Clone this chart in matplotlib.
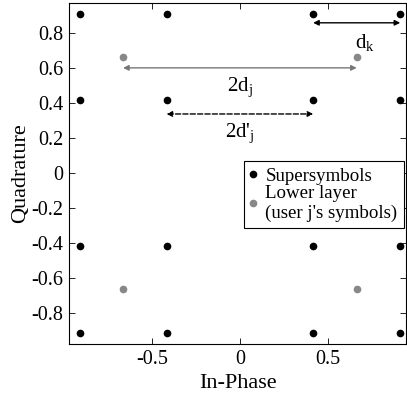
import numpy as np
import matplotlib
matplotlib.use('Agg')
import matplotlib.pyplot as plt

#constellation levels (same on both axes)
super_levels = [-0.91, -0.416, 0.416, 0.91]
lower_levels = [-0.663, 0.663]

x_ticks = [-0.5, 0, 0.5]
y_ticks = [-0.8, -0.6, -0.4, -0.2, 0, 0.2, 0.4, 0.6, 0.8]
x_tick_labels = ['-0.5', '0', '0.5']
y_tick_labels = ['-0.8', '-0.6', '-0.4', '-0.2', '0', '0.2', '0.4', '0.6', '0.8']

#arrow annotations: (x start, x end, y, label, label x, label y)
dk_arrow = (0.416, 0.91, 0.857, r'd$_\mathrm{k}$', 0.71, 0.745)
dj_arrow = (-0.663, 0.663, 0.6, r'2d$_\mathrm{j}$', 0.0, 0.49)
djp_arrow = (-0.416, 0.416, 0.337, r"2d$'_\mathrm{j}$", 0.0, 0.225)

plt.rcParams['font.family'] = ['Liberation Serif', 'DejaVu Serif']
plt.rcParams['mathtext.fontset'] = 'custom'
plt.rcParams['mathtext.rm'] = 'Liberation Serif'
plt.rcParams['mathtext.it'] = 'Liberation Serif'
plt.rcParams['mathtext.default'] = 'regular'
plt.rcParams['axes.unicode_minus'] = False

fig = plt.figure(figsize=(4.07, 4.05), dpi=100)
ax = fig.add_axes([0.1695, 0.1506, 0.829, 0.842])

sx, sy = np.meshgrid(super_levels, super_levels)
lx, ly = np.meshgrid(lower_levels, lower_levels)
ax.plot(sx.ravel(), sy.ravel(), 'o', color='black', ms=4.5, ls='none', label='Supersymbols')
ax.plot(lx.ravel(), ly.ravel(), 'o', color='#888888', ms=4.5, ls='none',
        label="Lower layer\n(user j's symbols)")

def draw_arrow(a, color, ls):
    x0, x1, y, txt, tx, ty = a
    ax.annotate('', xy=(x1, y), xytext=(x0, y),
                arrowprops=dict(arrowstyle='<|-|>', color=color, lw=1, ls=ls,
                                mutation_scale=8, shrinkA=0, shrinkB=0))
    ax.text(tx, ty, txt, ha='center', va='center', fontsize=15)

draw_arrow(dk_arrow, 'black', '-')
draw_arrow(dj_arrow, '#777777', '-')
draw_arrow(djp_arrow, 'black', '--')

ax.set_xlim(-0.97, 0.945)
ax.set_ylim(-0.975, 0.97)
ax.set_xticks(x_ticks)
ax.set_xticklabels(x_tick_labels)
ax.set_yticks(y_ticks)
ax.set_yticklabels(y_tick_labels)
ax.tick_params(direction='in', top=True, right=True, labelsize=14.5, length=4, width=0.6, pad=4)
for s in ax.spines.values():
    s.set_linewidth(0.8)

ax.set_xlabel('In-Phase', fontsize=16, labelpad=4)
ax.set_ylabel('Quadrature', fontsize=16, labelpad=1)

leg = ax.legend(loc='upper right', bbox_to_anchor=(0.993, 0.537), fontsize=13.6,
                fancybox=False, edgecolor='black', framealpha=1, handlelength=0.3,
                handletextpad=0.5, borderpad=0.35, borderaxespad=0, labelspacing=0.0)
leg.get_frame().set_linewidth(0.8)

fig.savefig('out.png', dpi=100)
